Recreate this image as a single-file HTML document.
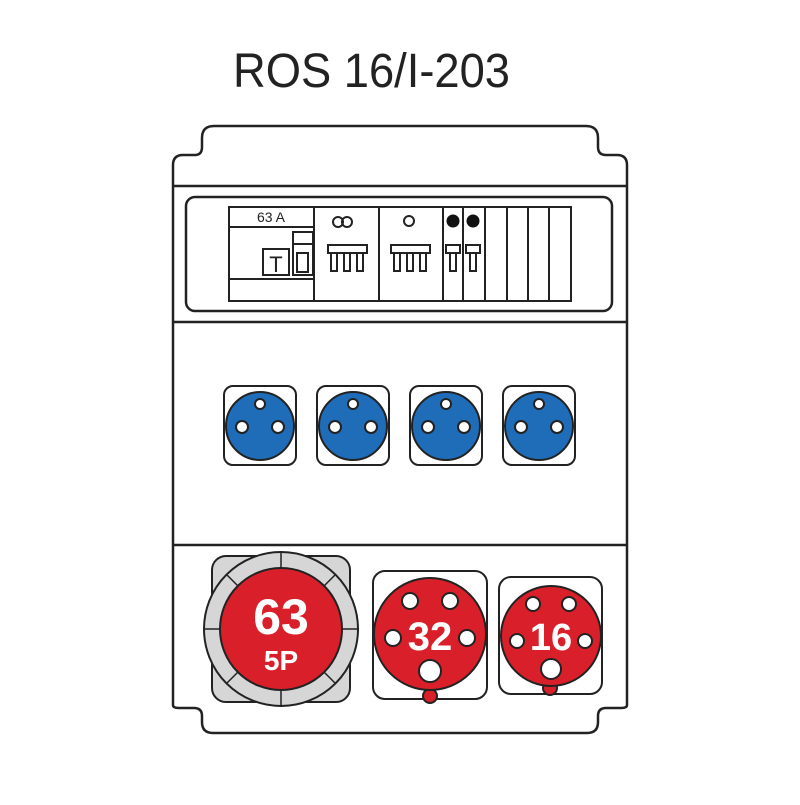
<!DOCTYPE html>
<html><head><style>html,body{margin:0;padding:0;background:#fff}</style></head><body>
<svg width="800" height="800" viewBox="0 0 800 800" xmlns="http://www.w3.org/2000/svg" font-family="Liberation Sans, sans-serif">
<rect width="800" height="800" fill="#fff"/>
<text x="233" y="87" font-size="48" textLength="277" lengthAdjust="spacingAndGlyphs" fill="#222">ROS 16/I-203</text>
<g fill="none" stroke="#222" stroke-width="2.5">
<path d="M173,705 L173,165 Q173,155 183,155 L195,155 Q202,155 202,147 L202,138 Q202,126 214,126 L586,126 Q598,126 598,138 L598,147 Q598,155 606,155 L617,155 Q627,155 627,165 L627,705 Q627,708 621,708 L606,708 Q598,708 598,716 L598,722 Q598,733 587,733 L213,733 Q202,733 202,722 L202,716 Q202,708 194,708 L179,708 Q173,708 173,705 Z"/>
<line x1="173" y1="186" x2="627" y2="186"/>
<line x1="173" y1="322" x2="627" y2="322"/>
<line x1="173" y1="545" x2="627" y2="545"/>
<rect x="186" y="197" width="426" height="114" rx="9"/>
</g>
<g fill="none" stroke="#222" stroke-width="2">
<rect x="229" y="207" width="342" height="94"/>
<line x1="229" y1="227" x2="314" y2="227"/>
<line x1="229" y1="279" x2="314" y2="279"/>
<line x1="314" y1="207" x2="314" y2="301"/>
<line x1="379" y1="207" x2="379" y2="301"/>
<line x1="443" y1="207" x2="443" y2="301"/>
<line x1="463" y1="207" x2="463" y2="301"/>
<line x1="485" y1="207" x2="485" y2="301"/>
<line x1="507" y1="207" x2="507" y2="301"/>
<line x1="528" y1="207" x2="528" y2="301"/>
<line x1="549" y1="207" x2="549" y2="301"/>
<rect x="263" y="249" width="26" height="26"/>
<rect x="293" y="232" width="20" height="43"/>
<line x1="293" y1="244" x2="313" y2="244"/>
<rect x="297" y="253" width="11" height="19"/>
<circle cx="338" cy="222" r="5"/><circle cx="347" cy="222" r="5"/>
<circle cx="409" cy="221" r="5"/>
</g>
<text x="271" y="222" font-size="14" text-anchor="middle" fill="#222">63 A</text>
<text x="276" y="272" font-size="22" text-anchor="middle" fill="#222">T</text>
<circle cx="453" cy="221" r="6.5" fill="#111"/><circle cx="473" cy="221" r="6.5" fill="#111"/>
<g fill="#fff" stroke="#222" stroke-width="2">
<rect x="328" y="245" width="39" height="8"/>
<rect x="331" y="253" width="6" height="18"/><rect x="344" y="253" width="6" height="18"/><rect x="357" y="253" width="6" height="18"/>
<rect x="391" y="245" width="39" height="8"/>
<rect x="394" y="253" width="6" height="18"/><rect x="407" y="253" width="6" height="18"/><rect x="420" y="253" width="6" height="18"/>
<rect x="446" y="245" width="14" height="8"/><rect x="450" y="253" width="6" height="18"/>
<rect x="466" y="245" width="14" height="8"/><rect x="470" y="253" width="6" height="18"/>
</g>
<g stroke="#222" stroke-width="2">
<g id="s"><rect x="224" y="386" width="72" height="79" rx="9" fill="#fff"/>
<circle cx="260" cy="426" r="34" fill="#1f6db8"/>
<circle cx="260" cy="404" r="5" fill="#fff"/><circle cx="242" cy="427" r="6" fill="#fff"/><circle cx="278" cy="427" r="6" fill="#fff"/></g>
<use href="#s" x="93"/><use href="#s" x="186"/><use href="#s" x="279"/>
<rect x="212" y="556" width="138" height="146" rx="14" fill="#d6d6d6"/>
<circle cx="281" cy="629" r="77" fill="#d6d6d6"/>
<g stroke-width="1.5"><line x1="281" y1="552" x2="281" y2="706"/><line x1="204" y1="629" x2="358" y2="629"/>
<line x1="227" y1="575" x2="335" y2="683"/><line x1="335" y1="575" x2="227" y2="683"/></g>
<circle cx="281" cy="629" r="61" fill="#d9202a"/>
<rect x="373" y="571" width="114" height="128" rx="12" fill="#fff"/>
<circle cx="430" cy="696" r="7" fill="#d9202a"/>
<circle cx="430" cy="634" r="56" fill="#d9202a"/>
<circle cx="410" cy="601" r="8" fill="#fff"/><circle cx="450" cy="601" r="8" fill="#fff"/>
<circle cx="393" cy="638" r="8" fill="#fff"/><circle cx="467" cy="638" r="8" fill="#fff"/>
<circle cx="430" cy="671" r="11" fill="#fff"/>
<rect x="499" y="577" width="103" height="117" rx="12" fill="#fff"/>
<circle cx="550" cy="688" r="7" fill="#d9202a"/>
<circle cx="551" cy="636" r="50" fill="#d9202a"/>
<circle cx="533" cy="604" r="7" fill="#fff"/><circle cx="569" cy="604" r="7" fill="#fff"/>
<circle cx="517" cy="641" r="7" fill="#fff"/><circle cx="585" cy="641" r="7" fill="#fff"/>
<circle cx="551" cy="669" r="10" fill="#fff"/>
</g>
<g fill="#fff" font-weight="bold" text-anchor="middle">
<text x="281" y="634" font-size="50">63</text>
<text x="281" y="670" font-size="28">5P</text>
<text x="430" y="650" font-size="40">32</text>
<text x="551" y="650" font-size="38">16</text>
</g>
</svg>
</body></html>
